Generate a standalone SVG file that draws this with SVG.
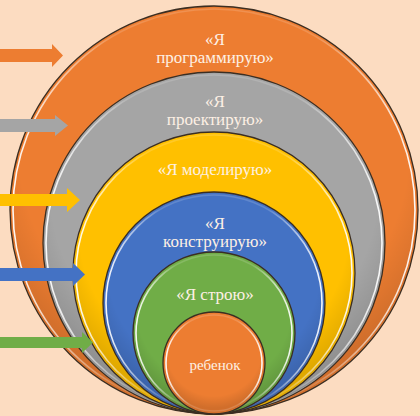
<svg xmlns="http://www.w3.org/2000/svg" width="420" height="416" viewBox="0 0 420 416">
  <defs>
    <linearGradient id="hl" x1="0" y1="0" x2="1" y2="0">
      <stop offset="0" stop-color="#fff" stop-opacity="0.95"/>
      <stop offset="0.25" stop-color="#fff" stop-opacity="0.15"/>
      <stop offset="0.75" stop-color="#fff" stop-opacity="0.15"/>
      <stop offset="1" stop-color="#fff" stop-opacity="0.95"/>
    </linearGradient>
    <radialGradient id="shade" cx="0.5" cy="0.35" r="0.6">
      <stop offset="0.8" stop-color="#000" stop-opacity="0"/>
      <stop offset="1" stop-color="#000" stop-opacity="0.12"/>
    </radialGradient>
  </defs>
  <style>
    .ring { stroke: #3b2e22; stroke-width: 1.3; }
    .hl { fill: none; stroke: url(#hl); stroke-width: 1.6; }
    .sh { fill: url(#shade); }
    .lbl { font-family: "Liberation Serif", "Times New Roman", serif; font-size: 17px; fill: #fdf0e4; text-anchor: middle; }
    .small { font-size: 15px; }
  </style>
  <rect width="420" height="416" fill="#fcdcc1"/>

  <g id="node-program">
    <circle class="ring" cx="214" cy="210" r="204" fill="#ed7d31"/>
    <circle class="sh" cx="214" cy="210" r="203"/>
    <circle class="hl" cx="214" cy="210" r="201"/>
    <text class="lbl" x="215" y="45">«Я</text>
    <text class="lbl" x="215" y="63">программирую»</text>
  </g>
  <g id="node-project">
    <circle class="ring" cx="214" cy="243" r="171" fill="#a5a5a5"/>
    <circle class="sh" cx="214" cy="243" r="170"/>
    <circle class="hl" cx="214" cy="243" r="168"/>
    <text class="lbl" x="215" y="107">«Я</text>
    <text class="lbl" x="215" y="125">проектирую»</text>
  </g>
  <g id="node-model">
    <circle class="ring" cx="214" cy="273" r="141" fill="#ffc000"/>
    <circle class="sh" cx="214" cy="273" r="140"/>
    <circle class="hl" cx="214" cy="273" r="138"/>
    <text class="lbl" x="215" y="175">«Я моделирую»</text>
  </g>
  <g id="node-construct">
    <circle class="ring" cx="214" cy="303" r="111" fill="#4472c4"/>
    <circle class="sh" cx="214" cy="303" r="110"/>
    <circle class="hl" cx="214" cy="303" r="108"/>
    <text class="lbl" x="215" y="229">«Я</text>
    <text class="lbl" x="215" y="247">конструирую»</text>
  </g>
  <g id="node-build">
    <circle class="ring" cx="214" cy="333" r="81" fill="#70ad47"/>
    <circle class="sh" cx="214" cy="333" r="80"/>
    <circle class="hl" cx="214" cy="333" r="78"/>
    <text class="lbl" x="215" y="300">«Я строю»</text>
  </g>
  <g id="node-child">
    <circle class="ring" cx="214" cy="363" r="51" fill="#ed7d31"/>
    <circle class="sh" cx="214" cy="363" r="50"/>
    <circle class="hl" cx="214" cy="363" r="48"/>
    <text class="lbl small" x="215" y="370">ребенок</text>
  </g>

  <g id="connectors">
    <polygon fill="#ed7d31" points="0,49 52,49 52,44 63,55.5 52,67 52,62 0,62"/>
    <polygon fill="#a5a5a5" points="0,119 55,119 55,115 68,125.5 55,136 55,132 0,132"/>
    <polygon fill="#ffc000" points="0,194 67,194 67,188 80,200 67,212 67,206 0,206"/>
    <polygon fill="#4472c4" points="0,268 73,268 73,263 85,274.5 73,286 73,281 0,281"/>
    <polygon fill="#70ad47" points="0,337 82,337 82,332 93,342.5 82,353 82,348 0,348"/>
  </g>
</svg>
